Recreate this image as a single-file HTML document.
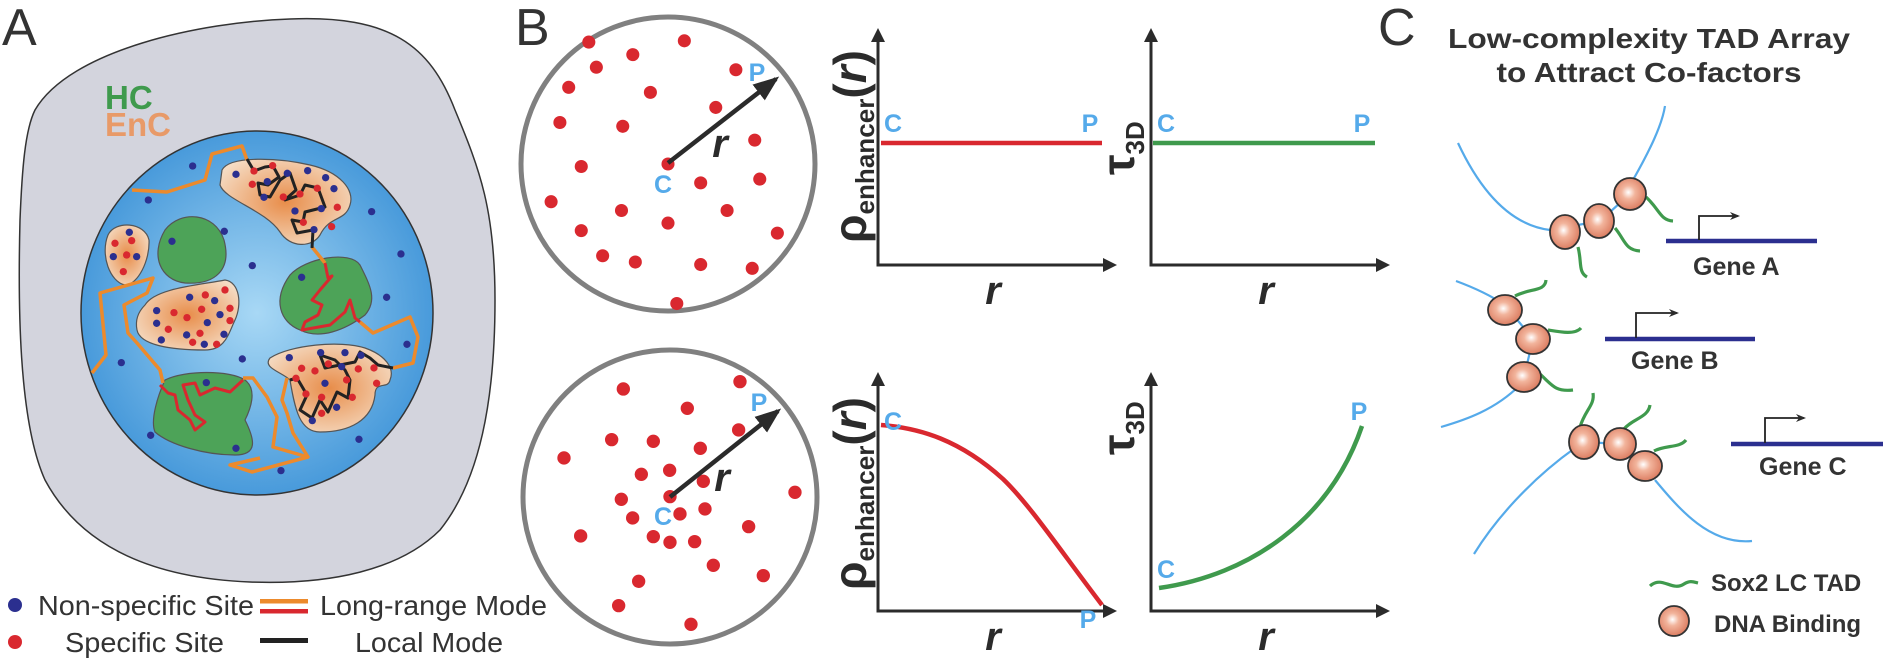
<!DOCTYPE html>
<html><head><meta charset="utf-8"><style>
body{margin:0;background:#fff}
svg{display:block}
text{font-family:"Liberation Sans",Arial,sans-serif}
</style></head><body>
<svg width="1893" height="659" viewBox="0 0 1893 659" xmlns="http://www.w3.org/2000/svg">
<defs>
<radialGradient id="nuc" cx="0.5" cy="0.5" r="0.55"><stop offset="0" stop-color="#a8d8f5"/><stop offset="1" stop-color="#3f94d8"/></radialGradient>
<radialGradient id="enc" cx="0.5" cy="0.5" r="0.6"><stop offset="0" stop-color="#e88d4a"/><stop offset="1" stop-color="#f5dcc4"/></radialGradient>
<radialGradient id="bead" cx="0.45" cy="0.45" r="0.6"><stop offset="0" stop-color="#fff"/><stop offset="0.35" stop-color="#f2b49c"/><stop offset="1" stop-color="#d9765a"/></radialGradient>
<marker id="ar" markerWidth="14" markerHeight="14" refX="10" refY="7" orient="auto-start-reverse" markerUnits="userSpaceOnUse"><path d="M0,0 L14,7 L0,14 Z" fill="#2b2b2b"/></marker>
<marker id="sm" markerWidth="10" markerHeight="10" refX="8" refY="5" orient="auto" markerUnits="userSpaceOnUse"><path d="M0,1 L10,5 L0,9 L3,5 Z" fill="#2b2b2b"/></marker>
<marker id="ar2" markerWidth="26" markerHeight="20" refX="22" refY="10" orient="auto" markerUnits="userSpaceOnUse"><path d="M0,0 L26,10 L0,20 Z" fill="#2b2b2b"/></marker>
</defs>
<!-- Panel A -->
<text x="2" y="45" font-size="52" fill="#333">A</text>
<path d="M35,110 C70,50 200,22 290,19 C390,15 430,45 455,110 C480,170 495,210 495,300 C495,400 480,480 440,530 C400,570 330,585 250,582 C150,578 80,545 45,480 C18,420 18,300 20,220 C22,170 25,130 35,110 Z" fill="#d3d4dd" stroke="#333" stroke-width="1.5"/>
<text x="105" y="109" font-size="33" font-weight="bold" fill="#3f9a4d">HC</text>
<text x="105" y="136" font-size="33" font-weight="bold" fill="#e89a68">EnC</text>
<ellipse cx="257" cy="313" rx="176" ry="182" fill="url(#nuc)" stroke="#333" stroke-width="1.5"/>
<g stroke="#555" stroke-width="1.2">
<path d="M165,230 C180,210 215,212 224,240 C232,270 215,285 185,283 C160,280 150,255 165,230Z" fill="#4da358"/>
<path d="M290,275 C305,258 350,250 360,265 C370,285 378,300 365,315 C345,330 320,340 300,330 C280,322 272,300 290,275 Z" fill="#4da358"/>
<path d="M165,380 C185,370 230,370 245,380 C258,390 250,410 245,420 C255,440 258,455 235,455 C205,455 170,445 155,432 C150,420 158,395 165,380Z" fill="#4da358"/>
<path d="M222,170 C230,155 280,158 310,165 C340,172 355,190 350,205 C345,222 330,215 320,235 C312,248 290,248 280,232 C265,210 225,200 220,185Z" fill="url(#enc)"/>
<path d="M108,235 C115,220 145,222 149,240 C150,260 138,285 125,285 C110,282 100,255 108,235Z" fill="url(#enc)"/>
<path d="M145,305 C155,288 200,285 225,280 C240,282 242,305 235,320 C228,335 225,350 205,350 C170,350 140,345 137,330 C135,320 138,312 145,305Z" fill="url(#enc)"/>
<path d="M270,358 C290,345 340,340 365,348 C385,355 395,368 390,380 C388,390 375,380 375,395 C372,420 350,432 320,432 C300,432 295,410 290,380 C282,372 262,368 270,358Z" fill="url(#enc)"/>
</g>
<g fill="none" stroke="#ec8a2c" stroke-width="3.5" stroke-linejoin="round">
<polyline points="132,190 167,192 205,180 212,154 242,146 247,160"/>
<polyline points="92,373 106,355 100,293 153,278 147,293 124,305 128,333 137,343 160,370 163,383"/>
<polyline points="312,247 325,263"/>
<polyline points="360,322 373,333 410,317 418,337 413,363 393,368"/>
<polyline points="243,378 253,378 267,397 277,417 273,447 308,457 252,472 230,465 260,458"/>
<polyline points="287,378 282,400 287,413 293,433 308,457"/>
</g>
<g fill="none" stroke="#d9282f" stroke-width="3" stroke-linejoin="round">
<polyline points="325,263 328,278 332,276 320,290 312,300 322,305 318,315 305,322 302,330 330,325 345,312 350,300 355,318 360,322"/>
<polyline points="160,385 168,393 175,395 178,410 190,420 195,430 205,422 195,415 188,400 183,385 195,383 200,395 215,388 230,392 243,380"/>
</g>
<g fill="none" stroke="#222" stroke-width="3" stroke-linejoin="round">
<polyline points="247,159 254,171 265,167 273,166 279,177 268,185 258,183 260,195 270,197 280,180 290,173 296,190 285,200 300,195 305,185 318,188 325,207 305,212 303,222 292,220 297,233 313,230 312,248"/>
<polyline points="290,380 297,378 307,395 300,410 312,418 320,400 328,412 337,392 348,398 350,380 345,370 335,360 320,355 325,368 340,365 355,362 360,352 370,358 378,365 393,368"/>
</g>
<g fill="#2b2f8f" transform="scale(0.3333)">
<circle cx="578" cy="498" r="11"/><circle cx="445" cy="600" r="11"/><circle cx="708" cy="523" r="11"/><circle cx="802" cy="545" r="11"/><circle cx="862" cy="520" r="11"/><circle cx="923" cy="512" r="11"/><circle cx="977" cy="533" r="11"/><circle cx="1002" cy="566" r="11"/><circle cx="792" cy="592" r="11"/><circle cx="964" cy="626" r="11"/><circle cx="885" cy="633" r="11"/><circle cx="942" cy="689" r="11"/><circle cx="1115" cy="635" r="11"/><circle cx="1203" cy="762" r="11"/><circle cx="673" cy="694" r="11"/><circle cx="516" cy="724" r="11"/><circle cx="757" cy="797" r="11"/><circle cx="388" cy="697" r="11"/><circle cx="340" cy="770" r="11"/><circle cx="410" cy="770" r="11"/><circle cx="905" cy="832" r="11"/><circle cx="1160" cy="892" r="11"/><circle cx="569" cy="892" r="11"/><circle cx="644" cy="902" r="11"/><circle cx="470" cy="932" r="11"/><circle cx="660" cy="944" r="11"/><circle cx="470" cy="970" r="11"/><circle cx="622" cy="968" r="11"/><circle cx="560" cy="1005" r="11"/><circle cx="672" cy="1003" r="11"/><circle cx="484" cy="1020" r="11"/><circle cx="613" cy="1033" r="11"/><circle cx="1221" cy="1033" r="11"/><circle cx="727" cy="1077" r="11"/><circle cx="364" cy="1088" r="11"/><circle cx="868" cy="1073" r="11"/><circle cx="962" cy="1058" r="11"/><circle cx="1035" cy="1058" r="11"/><circle cx="1083" cy="1066" r="11"/><circle cx="1025" cy="1100" r="11"/><circle cx="975" cy="1150" r="11"/><circle cx="1010" cy="1222" r="11"/><circle cx="937" cy="1262" r="11"/><circle cx="619" cy="1148" r="11"/><circle cx="452" cy="1306" r="11"/><circle cx="708" cy="1345" r="11"/><circle cx="843" cy="1412" r="11"/><circle cx="1077" cy="1318" r="11"/></g>
<g fill="#d9282f" transform="scale(0.3333)">
<circle cx="762" cy="513" r="11"/><circle cx="818" cy="497" r="11"/><circle cx="757" cy="553" r="11"/><circle cx="850" cy="591" r="11"/><circle cx="900" cy="582" r="11"/><circle cx="952" cy="565" r="11"/><circle cx="1012" cy="622" r="11"/><circle cx="910" cy="667" r="11"/><circle cx="995" cy="680" r="11"/><circle cx="345" cy="730" r="11"/><circle cx="395" cy="722" r="11"/><circle cx="380" cy="765" r="11"/><circle cx="370" cy="815" r="11"/><circle cx="616" cy="885" r="11"/><circle cx="675" cy="870" r="11"/><circle cx="522" cy="938" r="11"/><circle cx="605" cy="928" r="11"/><circle cx="690" cy="925" r="11"/><circle cx="561" cy="953" r="11"/><circle cx="505" cy="988" r="11"/><circle cx="690" cy="962" r="11"/><circle cx="600" cy="1000" r="11"/><circle cx="578" cy="1027" r="11"/><circle cx="650" cy="1033" r="11"/><circle cx="905" cy="1105" r="11"/><circle cx="985" cy="1092" r="11"/><circle cx="1075" cy="1107" r="11"/><circle cx="1122" cy="1104" r="11"/><circle cx="945" cy="1113" r="11"/><circle cx="888" cy="1135" r="11"/><circle cx="1040" cy="1140" r="11"/><circle cx="1057" cy="1192" r="11"/><circle cx="965" cy="1192" r="11"/><circle cx="918" cy="1182" r="11"/><circle cx="1130" cy="1150" r="11"/><circle cx="965" cy="1240" r="11"/></g>
<!-- legend A -->
<circle cx="15" cy="605" r="7" fill="#2b2f8f"/><circle cx="15" cy="642" r="7" fill="#d9282f"/>
<text x="38" y="615" font-size="28" fill="#333" textLength="216" lengthAdjust="spacingAndGlyphs">Non-specific Site</text>
<text x="65" y="652" font-size="28" fill="#333" textLength="159" lengthAdjust="spacingAndGlyphs">Specific Site</text>
<rect x="260" y="599" width="48" height="4.5" fill="#ec8a2c"/><rect x="260" y="609" width="48" height="4.5" fill="#d9282f"/>
<rect x="260" y="638" width="48" height="5" fill="#222"/>
<text x="320" y="615" font-size="28" fill="#333" textLength="227" lengthAdjust="spacingAndGlyphs">Long-range Mode</text>
<text x="355" y="652" font-size="28" fill="#333" textLength="148" lengthAdjust="spacingAndGlyphs">Local Mode</text>
<!-- Panel B -->
<text x="515" y="45" font-size="52" fill="#333">B</text>
<circle cx="668" cy="164" r="147" fill="#fff" stroke="#808080" stroke-width="5"/>
<circle cx="670" cy="497" r="147" fill="#fff" stroke="#808080" stroke-width="5"/>
<g fill="#d9282f" transform="translate(668,164) scale(1.257) translate(-550,-135)">
<circle cx="487" cy="38" r="5.2"/><circle cx="563" cy="37" r="5.2"/><circle cx="522" cy="48" r="5.2"/><circle cx="493" cy="58" r="5.2"/><circle cx="604" cy="60" r="5.2"/><circle cx="471" cy="74" r="5.2"/><circle cx="536" cy="78" r="5.2"/><circle cx="588" cy="90" r="5.2"/><circle cx="514" cy="105" r="5.2"/><circle cx="464" cy="102" r="5.2"/><circle cx="619" cy="116" r="5.2"/><circle cx="481" cy="137" r="5.2"/><circle cx="550" cy="135" r="5.2"/><circle cx="576" cy="150" r="5.2"/><circle cx="623" cy="147" r="5.2"/><circle cx="457" cy="165" r="5.2"/><circle cx="513" cy="172" r="5.2"/><circle cx="550" cy="182" r="5.2"/><circle cx="597" cy="172" r="5.2"/><circle cx="637" cy="190" r="5.2"/><circle cx="481" cy="188" r="5.2"/><circle cx="524" cy="213" r="5.2"/><circle cx="576" cy="215" r="5.2"/><circle cx="617" cy="218" r="5.2"/><circle cx="557" cy="246" r="5.2"/><circle cx="498" cy="208" r="5.2"/></g>
<g fill="#d9282f" transform="translate(520,139) scale(0.3333)">
<circle cx="660" cy="728" r="20"/><circle cx="310" cy="750" r="20"/><circle cx="502" cy="808" r="20"/><circle cx="656" cy="873" r="20"/><circle cx="275" cy="902" r="20"/><circle cx="400" cy="907" r="20"/><circle cx="541" cy="928" r="20"/><circle cx="132" cy="957" r="20"/><circle cx="364" cy="1006" r="20"/><circle cx="449" cy="994" r="20"/><circle cx="550" cy="1027" r="20"/><circle cx="825" cy="1060" r="20"/><circle cx="304" cy="1081" r="20"/><circle cx="450" cy="1073" r="20"/><circle cx="555" cy="1110" r="20"/><circle cx="338" cy="1137" r="20"/><circle cx="480" cy="1125" r="20"/><circle cx="686" cy="1163" r="20"/><circle cx="182" cy="1191" r="20"/><circle cx="400" cy="1193" r="20"/><circle cx="450" cy="1210" r="20"/><circle cx="524" cy="1208" r="20"/><circle cx="580" cy="1279" r="20"/><circle cx="730" cy="1310" r="20"/><circle cx="356" cy="1327" r="20"/><circle cx="296" cy="1400" r="20"/><circle cx="513" cy="1456" r="20"/></g>
<line x1="668" y1="163" x2="776" y2="79" stroke="#2b2b2b" stroke-width="4.5" marker-end="url(#ar2)"/>
<line x1="670" y1="497" x2="778" y2="411" stroke="#2b2b2b" stroke-width="4.5" marker-end="url(#ar2)"/>
<g font-weight="bold" fill="#55aaea" font-size="25" text-anchor="middle">
<text x="663" y="193">C</text><text x="757" y="81">P</text>
<text x="663" y="525">C</text><text x="759" y="411">P</text></g>
<g font-weight="bold" font-style="italic" fill="#2b2b2b" font-size="40" text-anchor="middle">
<text x="720" y="157">r</text><text x="722" y="491">r</text></g>
<!-- plots -->
<g stroke="#2b2b2b" stroke-width="3" fill="none">
<polyline points="878,32 878,265 1113,265" marker-start="url(#ar)" marker-end="url(#ar)"/>
<polyline points="1151,32 1151,265 1386,265" marker-start="url(#ar)" marker-end="url(#ar)"/>
<polyline points="878,376 878,611 1113,611" marker-start="url(#ar)" marker-end="url(#ar)"/>
<polyline points="1151,376 1151,611 1386,611" marker-start="url(#ar)" marker-end="url(#ar)"/>
</g>
<line x1="881" y1="143" x2="1102" y2="143" stroke="#d9282f" stroke-width="4.5"/>
<line x1="1153" y1="143" x2="1375" y2="143" stroke="#3f9a4d" stroke-width="4.5"/>
<path d="M881,425 C920,428 960,440 1003,479 C1030,505 1060,550 1102,605" fill="none" stroke="#d9282f" stroke-width="4.5"/>
<path d="M1159,588 C1250,575 1330,520 1362,426" fill="none" stroke="#3f9a4d" stroke-width="4.5"/>
<g font-weight="bold" fill="#55aaea" font-size="25" text-anchor="middle">
<text x="893" y="132">C</text><text x="1090" y="132">P</text>
<text x="1166" y="132">C</text><text x="1362" y="132">P</text>
<text x="893" y="430">C</text><text x="1088" y="628">P</text>
<text x="1166" y="578">C</text><text x="1359" y="420">P</text></g>
<g font-weight="bold" font-style="italic" fill="#2b2b2b" font-size="40" text-anchor="middle">
<text x="993" y="304">r</text><text x="1266" y="304">r</text>
<text x="993" y="650">r</text><text x="1266" y="650">r</text></g>
<g fill="#2b2b2b" font-weight="bold">
<text transform="translate(866,243) rotate(-90)" font-size="46" textLength="193" lengthAdjust="spacingAndGlyphs">ρ<tspan font-size="26" dy="8">enhancer</tspan><tspan dy="-8">(</tspan><tspan font-style="italic">r</tspan>)</text>
<text transform="translate(866,590) rotate(-90)" font-size="46" textLength="193" lengthAdjust="spacingAndGlyphs">ρ<tspan font-size="26" dy="8">enhancer</tspan><tspan dy="-8">(</tspan><tspan font-style="italic">r</tspan>)</text>
<text transform="translate(1134,175) rotate(-90)" font-size="46">τ<tspan font-size="26" dy="10">3D</tspan></text>
<text transform="translate(1134,455) rotate(-90)" font-size="46">τ<tspan font-size="26" dy="10">3D</tspan></text>
</g>
<!-- Panel C -->
<text x="1378" y="45" font-size="52" fill="#333">C</text>
<text x="1649" y="48" font-size="28" font-weight="bold" fill="#333" text-anchor="middle" textLength="402" lengthAdjust="spacingAndGlyphs">Low-complexity TAD Array</text>
<text x="1649" y="82" font-size="28" font-weight="bold" fill="#333" text-anchor="middle" textLength="305" lengthAdjust="spacingAndGlyphs">to Attract Co-factors</text>
<g stroke="#55aaea" stroke-width="2.2" fill="none">
<path d="M1458,143 C1480,190 1510,225 1550,230 L1600,221 L1630,194"/>
<path d="M1633,180 C1650,150 1662,125 1665,106"/>
<path d="M1456,281 C1475,288 1490,295 1505,305 L1533,339 L1524,377"/>
<path d="M1520,385 C1495,410 1465,420 1441,427"/>
<path d="M1584,442 L1620,444 L1645,466"/>
<path d="M1575,448 C1530,480 1495,520 1474,554"/>
<path d="M1655,480 C1680,510 1710,545 1752,541"/>
</g>
<g stroke="#3f9a4d" stroke-width="3.2" fill="none">
<path d="M1578,247 C1582,262 1578,272 1587,277"/>
<path d="M1615,228 C1625,240 1625,250 1640,251"/>
<path d="M1646,197 C1660,210 1660,220 1673,221"/>
<path d="M1515,296 C1530,288 1545,292 1546,280"/>
<path d="M1548,330 C1560,332 1575,335 1581,328"/>
<path d="M1540,374 C1552,385 1555,392 1573,390"/>
<path d="M1580,427 C1585,410 1595,405 1593,393"/>
<path d="M1623,430 C1633,418 1648,418 1650,405"/>
<path d="M1654,451 C1665,445 1680,448 1686,440"/>
</g>
<g fill="url(#bead)" stroke="#333" stroke-width="1.8">
<ellipse cx="1565" cy="232" rx="15" ry="17"/><ellipse cx="1599" cy="221" rx="15" ry="17"/><ellipse cx="1630" cy="194" rx="16" ry="16"/>
<ellipse cx="1505" cy="310" rx="17" ry="15"/><ellipse cx="1533" cy="339" rx="17" ry="15"/><ellipse cx="1524" cy="377" rx="17" ry="15"/>
<ellipse cx="1584" cy="442" rx="15" ry="17"/><ellipse cx="1620" cy="444" rx="16" ry="16"/><ellipse cx="1645" cy="466" rx="17" ry="15"/>
</g>
<g stroke="#2b2f8f" stroke-width="4.5"><line x1="1666" y1="241" x2="1817" y2="241"/><line x1="1605" y1="339" x2="1755" y2="339"/><line x1="1731" y1="444" x2="1883" y2="444"/></g>
<g stroke="#222" stroke-width="1.8" fill="none">
<polyline points="1699,240 1699,216 1738,216" marker-end="url(#sm)"/>
<polyline points="1636,338 1636,313 1677,313" marker-end="url(#sm)"/>
<polyline points="1765,443 1765,418 1804,418" marker-end="url(#sm)"/>
</g>
<g font-size="25" font-weight="bold" fill="#333">
<text x="1693" y="275">Gene A</text><text x="1631" y="369">Gene B</text><text x="1759" y="475">Gene C</text>
<text x="1711" y="591" font-size="24">Sox2 LC TAD</text><text x="1714" y="632" font-size="24">DNA Binding</text></g>
<path d="M1650,586 C1662,575 1672,592 1684,584 C1690,580 1694,582 1698,583" stroke="#3f9a4d" stroke-width="3.2" fill="none"/>
<ellipse cx="1674" cy="621" rx="15" ry="15" fill="url(#bead)" stroke="#333" stroke-width="1.8"/>
</svg>
</body></html>
